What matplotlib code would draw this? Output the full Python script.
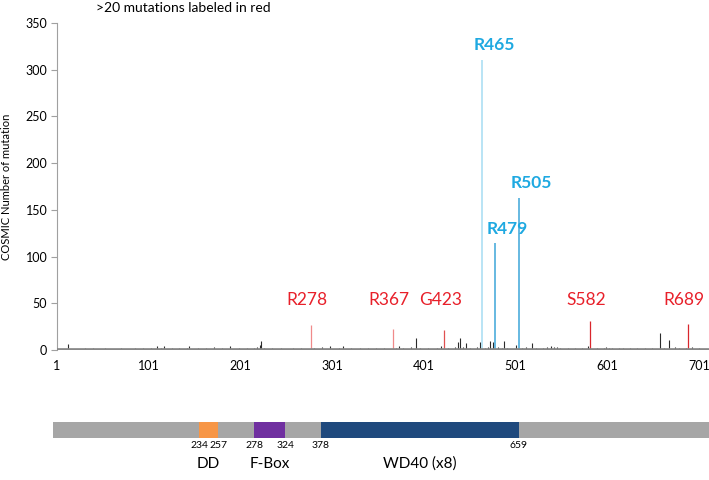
import matplotlib
matplotlib.use("Agg")
import matplotlib.pyplot as plt
import numpy as np

plt.rcParams['font.family'] = ['Lato', 'DejaVu Sans']

# low-level COSMIC mutation counts along the protein (residue, count)
low_pos = [5, 9, 13, 18, 24, 31, 36, 40, 44, 49,
           53, 58, 62, 67, 71, 77, 82, 86, 90, 95,
           99, 104, 108, 110, 114, 118, 121, 126, 130, 134,
           139, 143, 145, 150, 155, 159, 163, 168, 172, 177,
           181, 186, 190, 194, 199, 203, 208, 212, 216, 219,
           222, 223, 227, 231, 236, 240, 245, 249, 254, 258,
           263, 267, 272, 276, 281, 285, 290, 294, 299, 303,
           308, 313, 317, 322, 326, 331, 335, 340, 344, 349,
           353, 358, 362, 371, 374, 378, 383, 387, 393, 397,
           401, 406, 410, 415, 420, 427, 431, 435, 438, 441,
           444, 447, 451, 455, 459, 462, 468, 471, 473, 476,
           482, 486, 488, 492, 497, 502, 508, 512, 516, 519,
           523, 527, 531, 535, 540, 543, 546, 550, 554, 558,
           562, 566, 570, 574, 578, 580, 586, 590, 594, 597,
           600, 603, 606, 610, 614, 618, 622, 626, 630, 634,
           638, 642, 646, 650, 654, 659, 663, 668, 672, 675,
           679, 683, 687, 693, 697, 701, 705]
low_cnt = [1, 1, 6, 1, 1, 2, 1, 2, 1, 1,
           2, 1, 1, 1, 2, 1, 1, 2, 1, 2,
           1, 2, 1, 4, 2, 4, 1, 2, 1, 2,
           1, 2, 4, 1, 2, 1, 2, 1, 3, 1,
           2, 1, 4, 1, 2, 1, 2, 1, 2, 3,
           5, 10, 2, 1, 2, 1, 2, 1, 1, 2,
           1, 2, 1, 1, 2, 1, 3, 1, 4, 1,
           2, 4, 1, 2, 1, 2, 1, 2, 1, 2,
           1, 2, 1, 2, 4, 2, 1, 3, 13, 2,
           1, 2, 1, 2, 4, 2, 1, 3, 9, 13,
           3, 8, 2, 1, 3, 9, 2, 3, 10, 9,
           3, 2, 10, 2, 1, 5, 2, 3, 1, 7,
           2, 1, 2, 3, 4, 3, 3, 2, 1, 2,
           1, 2, 1, 2, 1, 4, 1, 2, 1, 2,
           3, 2, 2, 1, 2, 2, 1, 2, 1, 2,
           1, 2, 1, 2, 1, 18, 2, 11, 1, 3,
           2, 1, 2, 3, 1, 2, 1]

# hotspots with >20 mutations
red_names = ['R278', 'R367', 'G423', 'S582', 'R689']
red_pos = [278, 367, 423, 582, 689]
red_cnt = [27, 22, 21, 31, 28]

blue_names = ['R465', 'R479', 'R505']
blue_pos = [465, 479, 505]
blue_cnt = [310, 114, 163]

x_ticks = [1, 101, 201, 301, 401, 501, 601, 701]
y_ticks = [0, 50, 100, 150, 200, 250, 300, 350]

# protein domains
protein_len = 707
dom_names = ['DD', 'F-Box', 'WD40 (x8)']
dom_start = [234, 278, 378]
dom_end = [257, 324, 659]
dom_colors = ['#f79646', '#7030a0', '#1f497d']

W, H = 709, 480
fig = plt.figure(figsize=(W / 100, H / 100), dpi=100)

# main mutation plot
ax = fig.add_axes([57 / W, 1 - 350 / H, (W - 57) / W, 327 / H])
ax.vlines(low_pos, 0, low_cnt, color='#2b2b2b', linewidth=0.8, zorder=2)
red_line_colors = ['#f08a8a', '#f08a8a', '#e05050', '#d9262c', '#d9262c']
ax.vlines(red_pos, 0, red_cnt, colors=red_line_colors, linewidth=0.9, zorder=2)
blue_line_colors = ['#a6dcf2', '#3da5d9', '#3da5d9']
ax.vlines(blue_pos, 0, blue_cnt, colors=blue_line_colors, linewidth=1.1, zorder=2)
ax.axhline(0, color='#888888', linewidth=3.4, zorder=3)

for name, p in zip(red_names, red_pos):
    ax.text(p - 4, 54, name, color='#e8202a', fontsize=12.5,
            ha='center', va='center')
for name, p, c in zip(blue_names, blue_pos, blue_cnt):
    ax.text(p + 13, c + 16, name, color='#1fa9e1', fontsize=12.5,
            fontweight='bold', ha='center', va='center')

ax.set_xlim(1, 712)
ax.set_ylim(0, 350)
ax.set_xticks(x_ticks)
ax.set_yticks(y_ticks)
ax.tick_params(axis='x', length=0, pad=7, labelsize=9)
ax.tick_params(axis='y', length=4, color='#a0a0a0', labelsize=9, pad=3)
for s in ['top', 'right', 'bottom']:
    ax.spines[s].set_visible(False)
ax.spines['left'].set_color('#a0a0a0')
ax.set_ylabel('COSMIC Number of mutation', fontsize=8, labelpad=10)

fig.text(183 / W, 1 - 8 / H, '>20 mutations labeled in red', fontsize=10,
         ha='center', va='center')

# domain schematic: not drawn to scale, so use a piecewise scale
# (residue anchors -> horizontal pixel positions of the schematic)
anchor_res = [1] + sorted(dom_start + dom_end) + [protein_len]
anchor_px = [53, 199, 218, 254, 285, 321, 519, 709]


def fwd(r):
    return np.interp(r, anchor_res, anchor_px)


def inv(p):
    return np.interp(p, anchor_px, anchor_res)


dax = fig.add_axes([53 / W, 0, (W - 53) / W, 80 / H])
dax.set_xscale('function', functions=(fwd, inv))
dax.set_xlim(1, protein_len)
dax.set_ylim(0, 80)
dax.axis('off')
dax.fill_between([1, protein_len], 42, 58, color='#a6a6a6', zorder=1,
                 linewidth=0)
for name, s, e, c in zip(dom_names, dom_start, dom_end, dom_colors):
    dax.fill_between([s, e], 42, 58, color=c, zorder=2, linewidth=0)
    dax.text(s, 34, str(s), fontsize=7.5, ha='center', va='center')
    dax.text(e, 34, str(e), fontsize=7.5, ha='center', va='center')
    dax.text((s + e) / 2, 16, name, fontsize=11, ha='center', va='center')

fig.savefig('out.png', dpi=100)
